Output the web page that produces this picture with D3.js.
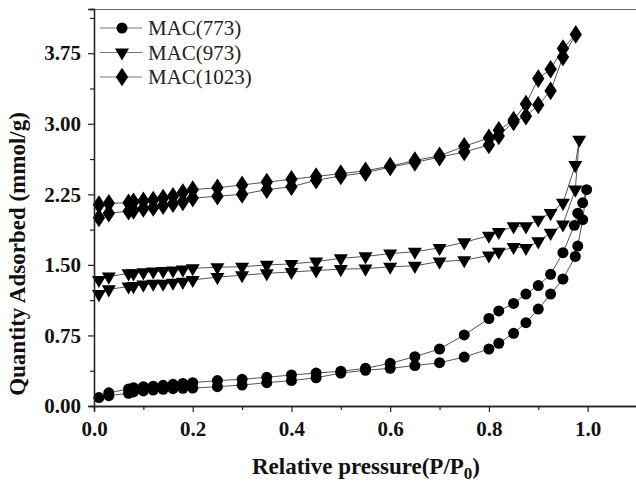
<!DOCTYPE html>
<html>
<head>
<meta charset="utf-8">
<script src="https://cdn.jsdelivr.net/npm/d3@7"></script>
<style>
  body { margin: 0; background: #fff; }
  text { font-family: "Liberation Serif", "Times New Roman", serif; }
</style>
</head>
<body>
<script>
// data: adsorption branch (up) then desorption branch (down)
var ads773X = [0.01, 0.03, 0.07, 0.08, 0.10, 0.12, 0.14, 0.16, 0.18, 0.20, 0.25, 0.30, 0.35, 0.40, 0.45, 0.50, 0.55, 0.60, 0.65, 0.70, 0.75, 0.80, 0.82, 0.85, 0.875, 0.90, 0.925, 0.95, 0.975, 0.98, 0.99, 0.998];
var ads773Y = [0.09, 0.11, 0.135, 0.15, 0.16, 0.17, 0.178, 0.184, 0.188, 0.19, 0.205, 0.223, 0.248, 0.27, 0.30, 0.35, 0.38, 0.40, 0.43, 0.46, 0.52, 0.606, 0.667, 0.773, 0.886, 1.03, 1.19, 1.35, 1.59, 1.70, 1.98, 2.30];
var des773X = [0.99, 0.98, 0.973, 0.95, 0.925, 0.90, 0.875, 0.85, 0.82, 0.80, 0.75, 0.70, 0.65, 0.60, 0.55, 0.50, 0.45, 0.40, 0.35, 0.30, 0.25, 0.20, 0.18, 0.16, 0.14, 0.12, 0.10, 0.08, 0.07, 0.03];
var des773Y = [2.16, 2.05, 1.92, 1.63, 1.40, 1.28, 1.19, 1.09, 1.01, 0.93, 0.755, 0.606, 0.524, 0.454, 0.40, 0.37, 0.35, 0.33, 0.305, 0.284, 0.27, 0.248, 0.24, 0.23, 0.22, 0.21, 0.205, 0.195, 0.18, 0.14];

var ads973X = [0.01, 0.03, 0.07, 0.08, 0.10, 0.12, 0.14, 0.16, 0.18, 0.20, 0.25, 0.30, 0.35, 0.40, 0.45, 0.50, 0.55, 0.60, 0.65, 0.70, 0.75, 0.80, 0.82, 0.85, 0.875, 0.90, 0.925, 0.95, 0.975, 0.983];
var ads973Y = [1.19, 1.24, 1.27, 1.275, 1.29, 1.30, 1.30, 1.31, 1.32, 1.34, 1.37, 1.39, 1.41, 1.425, 1.44, 1.455, 1.46, 1.48, 1.49, 1.535, 1.55, 1.60, 1.64, 1.69, 1.68, 1.75, 1.84, 1.93, 2.30, 2.83];
var des973X = [0.975, 0.95, 0.925, 0.90, 0.875, 0.85, 0.82, 0.80, 0.75, 0.70, 0.65, 0.60, 0.55, 0.50, 0.45, 0.40, 0.35, 0.30, 0.25, 0.20, 0.18, 0.16, 0.14, 0.12, 0.10, 0.08, 0.07, 0.03, 0.01];
var des973Y = [2.56, 2.16, 2.05, 1.98, 1.91, 1.91, 1.85, 1.81, 1.74, 1.68, 1.64, 1.62, 1.59, 1.57, 1.535, 1.51, 1.50, 1.48, 1.475, 1.464, 1.45, 1.44, 1.435, 1.43, 1.42, 1.41, 1.41, 1.375, 1.34];

var ads1023X = [0.01, 0.03, 0.07, 0.08, 0.10, 0.12, 0.14, 0.16, 0.18, 0.20, 0.25, 0.30, 0.35, 0.40, 0.45, 0.50, 0.55, 0.60, 0.65, 0.70, 0.75, 0.80, 0.82, 0.85, 0.875, 0.90, 0.925, 0.95, 0.976];
var ads1023Y = [2.00, 2.05, 2.07, 2.08, 2.10, 2.11, 2.13, 2.15, 2.17, 2.21, 2.23, 2.25, 2.30, 2.33, 2.40, 2.445, 2.48, 2.54, 2.59, 2.645, 2.70, 2.775, 2.87, 3.02, 3.08, 3.20, 3.35, 3.71, 3.95];
var des1023X = [0.95, 0.925, 0.90, 0.875, 0.85, 0.82, 0.80, 0.75, 0.70, 0.65, 0.60, 0.55, 0.50, 0.45, 0.40, 0.35, 0.30, 0.25, 0.20, 0.18, 0.16, 0.14, 0.12, 0.10, 0.08, 0.07, 0.03, 0.01];
var des1023Y = [3.80, 3.58, 3.48, 3.21, 3.04, 2.93, 2.85, 2.76, 2.66, 2.61, 2.55, 2.50, 2.47, 2.44, 2.41, 2.38, 2.35, 2.32, 2.30, 2.27, 2.23, 2.21, 2.19, 2.18, 2.17, 2.16, 2.155, 2.14];

var seriesNames = ["MAC(773)", "MAC(973)", "MAC(1023)"];
var xTicks = [0, 0.2, 0.4, 0.6, 0.8, 1.0];
var yTicks = [0, 0.75, 1.5, 2.25, 3.0, 3.75];

// page size and plot area
var W = 636, H = 488;
var plot = {left: 94, right: 637, top: 9, bottom: 406};

var x = d3.scaleLinear().domain([0, 1.1]).range([plot.left, plot.right]);
var y = d3.scaleLinear().domain([0, 4.22]).range([plot.bottom, plot.top]);

var svg = d3.select("body").append("svg")
    .attr("width", W)
    .attr("height", H);

function pts(xs, ys) {
    return xs.map(function(v, i) { return [v, ys[i]]; });
}

var series = [
    {name: seriesNames[0], symbol: d3.symbolCircle, size: 95, data: pts(ads773X, ads773Y).concat(pts(des773X, des773Y))},
    {name: seriesNames[1], symbol: d3.symbolTriangle, size: 85, flip: true, data: pts(ads973X, ads973Y).concat(pts(des973X, des973Y))},
    {name: seriesNames[2], symbol: d3.symbolDiamond, size: 100, data: pts(ads1023X, ads1023Y).concat(pts(des1023X, des1023Y))}
];

var line = d3.line()
    .x(function(d) { return x(d[0]); })
    .y(function(d) { return y(d[1]); });

function markTransform(s) {
    return (s.flip ? " scale(1,-1)" : "") + (s.symbol === d3.symbolDiamond ? " scale(1.15,1)" : "");
}

// top frame line
svg.append("line")
    .attr("x1", plot.left).attr("x2", W)
    .attr("y1", plot.top + 0.5).attr("y2", plot.top + 0.5)
    .attr("stroke", "#666").attr("stroke-width", 1.2);

// lines and markers
series.forEach(function(s) {
    svg.append("path")
        .datum(s.data)
        .attr("fill", "none")
        .attr("stroke", "#555")
        .attr("stroke-width", 1)
        .attr("d", line);

    svg.selectAll(null)
        .data(s.data)
        .enter().append("path")
        .attr("d", d3.symbol().type(s.symbol).size(s.size))
        .attr("transform", function(d) {
            return "translate(" + x(d[0]) + "," + y(d[1]) + ")" + markTransform(s);
        })
        .attr("fill", "#000");
});

// axes
var xAxis = d3.axisBottom(x).tickValues(xTicks).tickFormat(d3.format(".1f")).tickSize(6).tickPadding(9);
var xMinor = d3.axisBottom(x).tickValues([0.1, 0.3, 0.5, 0.7, 0.9, 1.1]).tickFormat("").tickSize(4);
var yAxis = d3.axisLeft(y).tickValues(yTicks).tickFormat(d3.format(".2f")).tickSize(6).tickPadding(7);
var yMinor = d3.axisLeft(y).tickValues([0.375, 1.125, 1.875, 2.625, 3.375, 4.125]).tickFormat("").tickSize(4);

svg.append("g").attr("transform", "translate(0," + plot.bottom + ")").call(xAxis);
svg.append("g").attr("transform", "translate(0," + plot.bottom + ")").call(xMinor);
svg.append("g").attr("transform", "translate(" + plot.left + ",0)").call(yAxis);
svg.append("g").attr("transform", "translate(" + plot.left + ",0)").call(yMinor);

svg.selectAll(".domain").attr("stroke", "#222").attr("stroke-width", 1.3);
svg.selectAll(".tick line").attr("stroke", "#222").attr("stroke-width", 1.2);
svg.selectAll(".tick text")
    .attr("font-family", "Liberation Serif, serif")
    .attr("font-size", 21)
    .attr("font-weight", "bold")
    .attr("fill", "#111");

// axis titles
svg.append("text")
    .attr("x", 366)
    .attr("y", 474)
    .attr("text-anchor", "middle")
    .attr("font-size", 23)
    .attr("font-weight", "bold")
    .attr("fill", "#111")
    .html('Relative pressure(P/P<tspan dy="5" font-size="17">0</tspan><tspan dy="-5">)</tspan>');

svg.append("text")
    .attr("transform", "translate(25,254) rotate(-90)")
    .attr("text-anchor", "middle")
    .attr("font-size", 23)
    .attr("font-weight", "bold")
    .attr("fill", "#111")
    .text("Quantity Adsorbed (mmol/g)");

// legend
var legend = svg.append("g").attr("transform", "translate(100,28)");
series.forEach(function(s, i) {
    var g = legend.append("g").attr("transform", "translate(0," + (i * 24.5) + ")");
    g.append("line").attr("x1", 0).attr("x2", 42).attr("y1", 0).attr("y2", 0)
        .attr("stroke", "#777").attr("stroke-width", 1);
    g.append("path")
        .attr("d", d3.symbol().type(s.symbol).size(s.size))
        .attr("transform", "translate(22,0)" + markTransform(s))
        .attr("fill", "#000");
    g.append("text")
        .attr("x", 48)
        .attr("y", 7)
        .attr("font-size", 21)
        .attr("fill", "#222")
        .text(s.name);
});
</script>
</body>
</html>
